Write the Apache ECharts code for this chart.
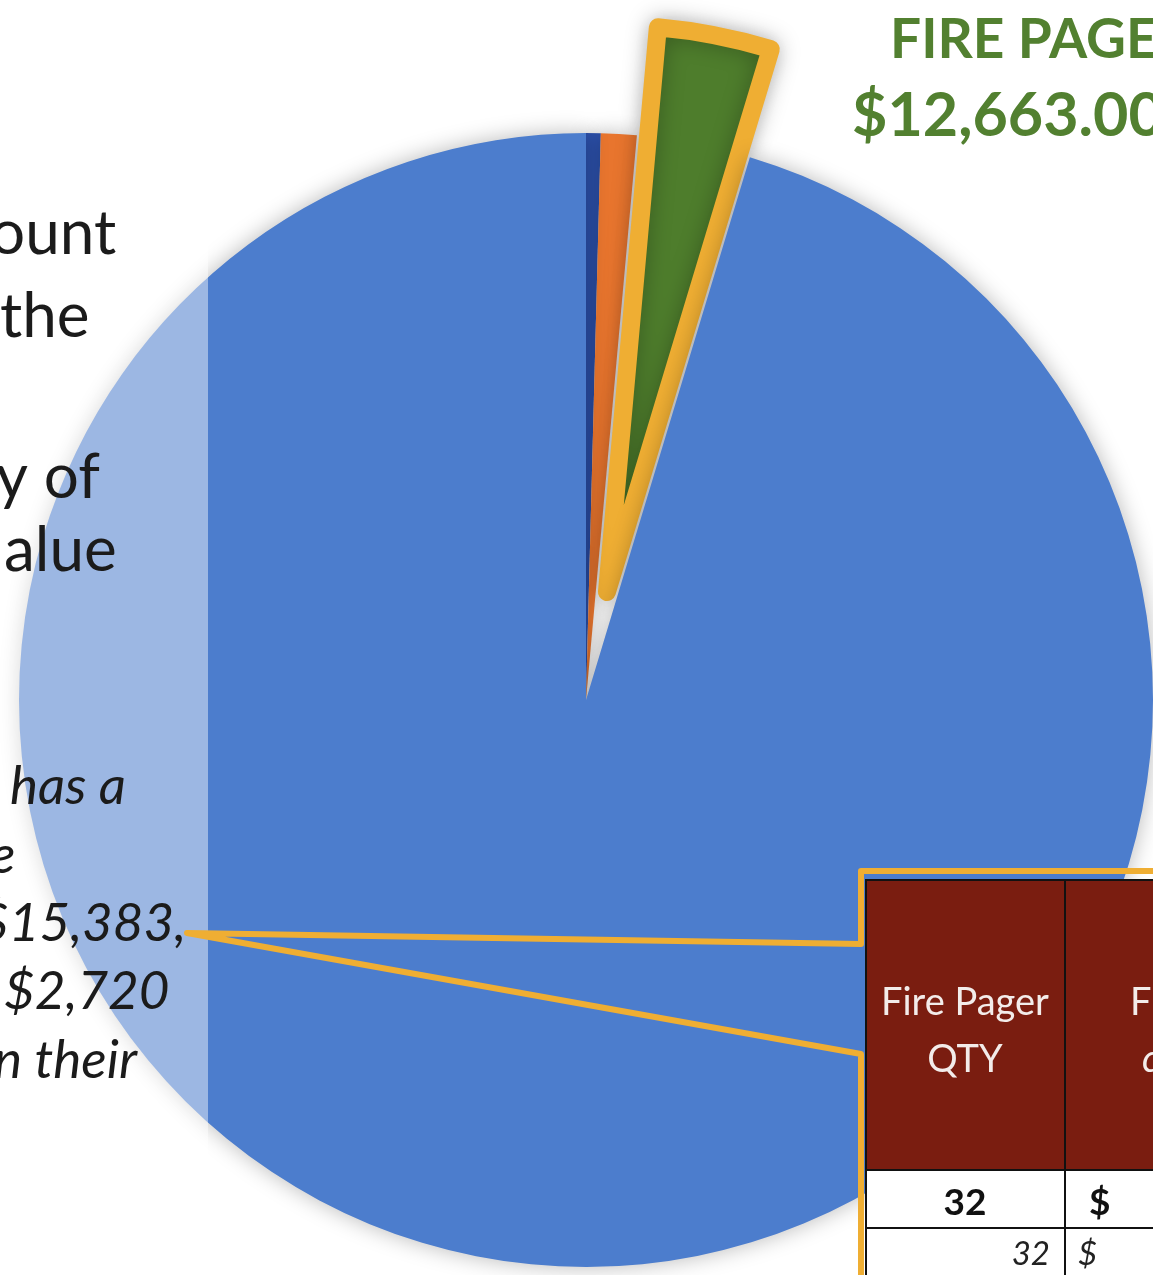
<!DOCTYPE html>
<html>
<head>
<meta charset="utf-8">
<style>
  html, body { margin: 0; padding: 0; background: #fff; }
  #chart { width: 1153px; height: 1275px; }
</style>
<script src="https://cdn.jsdelivr.net/npm/echarts@6/dist/echarts.min.js"></script>
</head>
<body>
<div id="chart"></div>
<script>
(function(){
  // slices, clockwise from 12 o'clock
  const sliceNames  = ['Other (dark blue)', 'Other (orange)', 'Fire Pagers', 'All other'];
  const sliceValues = [1630, 3970, 12663, 373100];
  const sliceColors = ['#2d52ae', '#e8752e', '#4e7d2c', '#4c7dcd'];
  const explodedIndex = 2;

  const calloutTitle = 'FIRE PAGE';
  const calloutValue = '$12,663.00';

  // left text box, visible right-hand parts of each line
  const plainLines  = ['ount', 'the', 'y of', 'alue'];
  const italicLines = ['has a', 'e', '$15,383,', '$2,720', 'n their'];

  // table in the callout
  const tableHeader = [['Fire Pager', 'QTY'], ['Fire Pager', 'cost']];
  const tableRow1   = ['32', '$'];
  const tableRow2   = ['32', '$'];

  const GOLD = '#efae33';
  const GREEN_TEXT = '#528030';
  const DARK_RED = '#7a1d10';

  const chart = echarts.init(document.getElementById('chart'), null, { renderer: 'canvas' });

  const plainPos  = [[-10, 234], [0, 317], [-4, 478], [4, 551]];
  const italicPos = [[10, 787], [-10, 856], [-22, 924], [4, 992], [-6, 1061]];

  const g = [];

  // translucent box behind the text
  g.push({ type: 'rect', z: 10, shape: { x: 0, y: 0, width: 208, height: 1275 },
    style: { fill: 'rgba(255,255,255,0.45)' } });

  plainLines.forEach((t, i) => g.push({
    type: 'text', z: 11, x: plainPos[i][0], y: plainPos[i][1],
    style: { text: t, font: '62px Lato', fill: '#1b1b1b', verticalAlign: 'middle' }
  }));
  italicLines.forEach((t, i) => g.push({
    type: 'text', z: 11, x: italicPos[i][0], y: italicPos[i][1],
    style: { text: t, font: 'italic 53px Lato', fill: '#1b1b1b', verticalAlign: 'middle' }
  }));

  g.push({ type: 'text', z: 11, x: 890, y: 40,
    style: { text: calloutTitle, font: 'bold 55px Lato', fill: GREEN_TEXT, verticalAlign: 'middle' } });
  g.push({ type: 'text', z: 11, x: 852, y: 116,
    style: { text: calloutValue, font: 'bold 61px Lato', fill: GREEN_TEXT, verticalAlign: 'middle' } });

  // table cells
  const colX = [866, 1065], colW = [199, 120];
  const headTop = 880, headBottom = 1170, row1Bottom = 1228, tableBottom = 1300;
  colX.forEach((x, c) => {
    g.push({ type: 'rect', z: 12, shape: { x, y: headTop, width: colW[c], height: headBottom - headTop },
      style: { fill: DARK_RED, stroke: '#111', lineWidth: 2 } });
    g.push({ type: 'rect', z: 12, shape: { x, y: headBottom, width: colW[c], height: row1Bottom - headBottom },
      style: { fill: '#fff', stroke: '#111', lineWidth: 2 } });
    g.push({ type: 'rect', z: 12, shape: { x, y: row1Bottom, width: colW[c], height: tableBottom - row1Bottom },
      style: { fill: '#fff', stroke: '#111', lineWidth: 2 } });
  });
  const headFont = '38px Lato';
  g.push({ type: 'text', z: 13, x: 965, y: 1003,
    style: { text: tableHeader[0][0], font: headFont, fill: '#f3ecea', align: 'center', verticalAlign: 'middle' } });
  g.push({ type: 'text', z: 13, x: 965, y: 1060,
    style: { text: tableHeader[0][1], font: headFont, fill: '#f3ecea', align: 'center', verticalAlign: 'middle' } });
  g.push({ type: 'text', z: 13, x: 1130, y: 1003,
    style: { text: tableHeader[1][0], font: headFont, fill: '#f3ecea', verticalAlign: 'middle' } });
  g.push({ type: 'text', z: 13, x: 1142, y: 1060,
    style: { text: tableHeader[1][1], font: 'italic ' + headFont, fill: '#f3ecea', verticalAlign: 'middle' } });
  g.push({ type: 'text', z: 13, x: 965, y: 1203,
    style: { text: tableRow1[0], font: 'bold 37px Lato', fill: '#111', align: 'center', verticalAlign: 'middle' } });
  g.push({ type: 'text', z: 13, x: 1089, y: 1203,
    style: { text: tableRow1[1], font: 'bold 37px Lato', fill: '#111', verticalAlign: 'middle' } });
  g.push({ type: 'text', z: 13, x: 1050, y: 1254,
    style: { text: tableRow2[0], font: 'italic 33px Lato', fill: '#222', align: 'right', verticalAlign: 'middle' } });
  g.push({ type: 'text', z: 13, x: 1078, y: 1254,
    style: { text: tableRow2[1], font: 'italic 33px Lato', fill: '#222', verticalAlign: 'middle' } });

  // gold callout outline with pointer
  g.push({ type: 'polyline', z: 14,
    shape: { points: [[1170, 871], [861, 871], [861, 944], [187, 933], [861, 1054], [861, 1290]] },
    style: { stroke: GOLD, lineWidth: 6, fill: null, lineJoin: 'round' } });

  chart.setOption({
    animation: false,
    graphic: g,
    series: [{
      type: 'pie',
      center: [586, 700],
      radius: 567,
      startAngle: 90,
      clockwise: true,
      selectedMode: 'single',
      selectedOffset: 110,
      label: { show: false },
      labelLine: { show: false },
      emphasis: { disabled: true },
      itemStyle: { shadowBlur: 22, shadowColor: 'rgba(0,0,0,0.28)' },
      data: sliceNames.map((name, i) => ({
        name,
        value: sliceValues[i],
        selected: i === explodedIndex,
        itemStyle: i === explodedIndex
          ? { color: sliceColors[i], borderColor: GOLD, borderWidth: 18, borderJoin: 'round' }
          : { color: sliceColors[i], borderWidth: 0 }
      }))
    }]
  });
})();
</script>
</body>
</html>
